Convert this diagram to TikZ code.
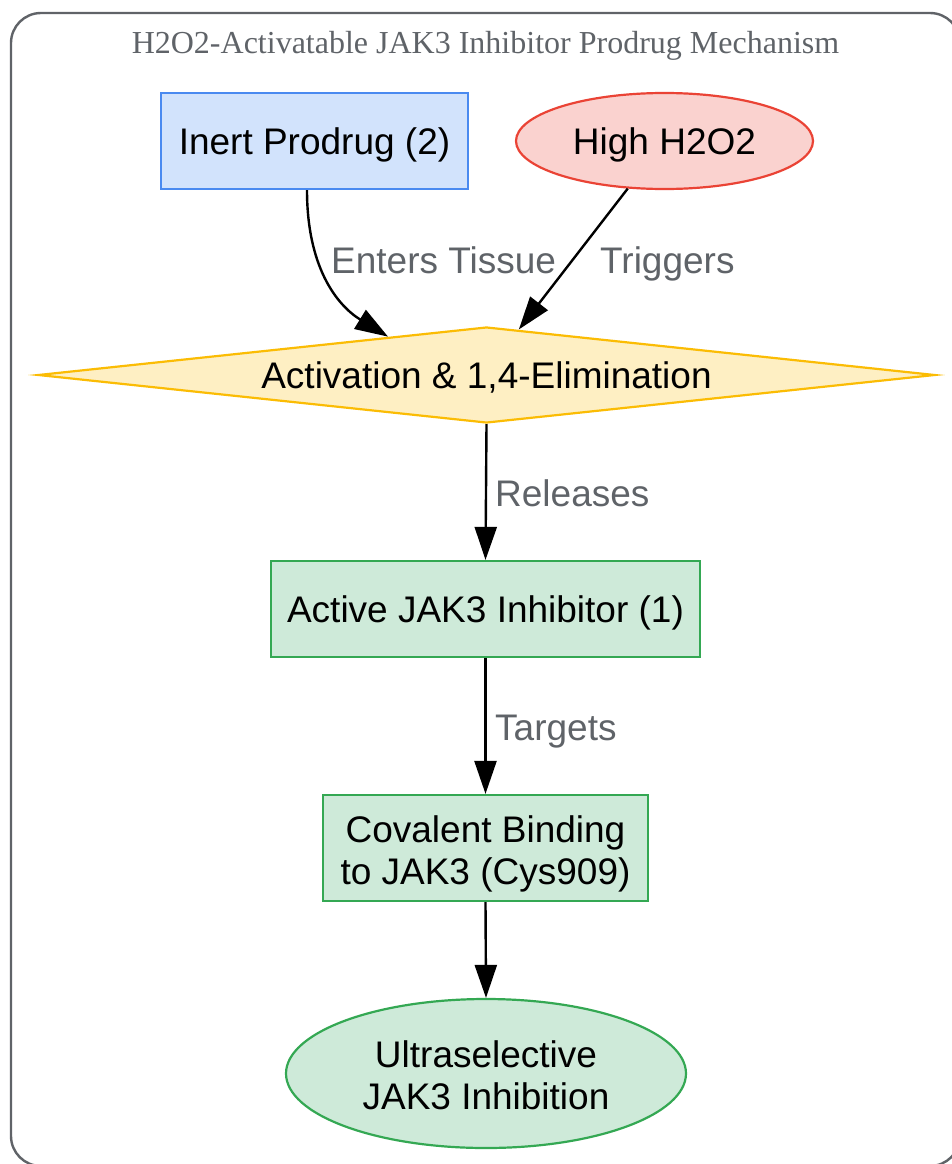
\documentclass[tikz,border=0pt]{standalone}
\usepackage{fontspec}
\setmainfont{Liberation Serif}
\newfontfamily\lsans{Liberation Sans}
\usetikzlibrary{shapes.geometric,arrows.meta,calc}
\definecolor{bluefill}{HTML}{D2E3FC}
\definecolor{bluedraw}{HTML}{4A8AF0}
\definecolor{redfill}{HTML}{FAD2CF}
\definecolor{reddraw}{HTML}{EA4335}
\definecolor{yelfill}{HTML}{FEEFC3}
\definecolor{yeldraw}{HTML}{FBBC04}
\definecolor{grnfill}{HTML}{CEEAD9}
\definecolor{grndraw}{HTML}{34A853}
\definecolor{txtgray}{HTML}{5F6368}
\definecolor{framegray}{HTML}{606368}
\begin{document}
\begin{tikzpicture}[x=1pt,y=-1pt,
  box/.style={draw, line width=2.2pt, inner sep=0pt, align=center, text=black,
    font=\lsans\fontsize{37}{42}\selectfont},
  oneline/.style={text height=27.5pt, text depth=0.5pt},
  twoline/.style={text height=72pt, text depth=0pt},
  conn/.style={line width=2.4pt, -{Triangle[length=33pt,width=22pt]}},
  lbl/.style={anchor=base west, inner sep=0pt, text=txtgray,
    font=\lsans\fontsize{37}{42}\selectfont}]
\useasboundingbox (0,0) rectangle (952,1164);
\clip (0,0) rectangle (952,1164);
% frame
\draw[framegray, line width=2.4pt, rounded corners=30pt] (11,13) rectangle (960,1166);
\node[anchor=base, inner sep=0pt, text=txtgray, font=\fontsize{32}{36}\selectfont] (title) at (485.5,53) {H2O2-Activatable JAK3 Inhibitor Prodrug Mechanism};
% nodes
\node[box, oneline, rectangle, fill=bluefill, draw=bluedraw, minimum width=307pt, minimum height=96pt] (inert) at (314.5,141) {Inert Prodrug (2)};
\node[box, oneline, ellipse, fill=redfill, draw=reddraw, minimum width=297pt, minimum height=96pt] (high) at (664.5,141) {High H2O2};
\node[box, oneline, diamond, aspect=9.45, fill=yelfill, draw=yeldraw, minimum width=897pt, minimum height=96pt] (dia) at (486.5,375) {Activation \& 1,4-Elimination};
\node[box, oneline, rectangle, fill=grnfill, draw=grndraw, minimum width=429pt, minimum height=96pt] (active) at (485.5,609) {Active JAK3 Inhibitor (1)};
\node[box, twoline, rectangle, fill=grnfill, draw=grndraw, minimum width=325pt, minimum height=106pt] (cov) at (485.5,848) {Covalent Binding\\to JAK3 (Cys909)};
\node[box, twoline, ellipse, fill=grnfill, draw=grndraw, minimum width=400pt, minimum height=149pt] (ultra) at (486,1073.5) {Ultraselective\\JAK3 Inhibition};
% connector end points on the diamond border
\coordinate (dinL) at ($(dia.north)!0.219!(dia.west)$);
\coordinate (dinR) at ($(dia.north)!0.072!(dia.east)$);
% connectors
\draw[conn] ([xshift=-7.5pt]inert.south) .. controls +(0,76) and +(-52,-32) .. (dinL);
\draw[conn] (high) -- (dinR);
\draw[conn] (dia.south) -- (active.north);
\draw[conn] (active.south) -- (cov.north);
\draw[conn] (cov.south) -- (ultra.north);
% labels
\node[lbl] (l1) at (331,273) {Enters Tissue};
\node[lbl] (l2) at (600,273) {Triggers};
\node[lbl] (l3) at (495,506) {Releases};
\node[lbl] (l4) at (495,740) {Targets};
\end{tikzpicture}
\end{document}
